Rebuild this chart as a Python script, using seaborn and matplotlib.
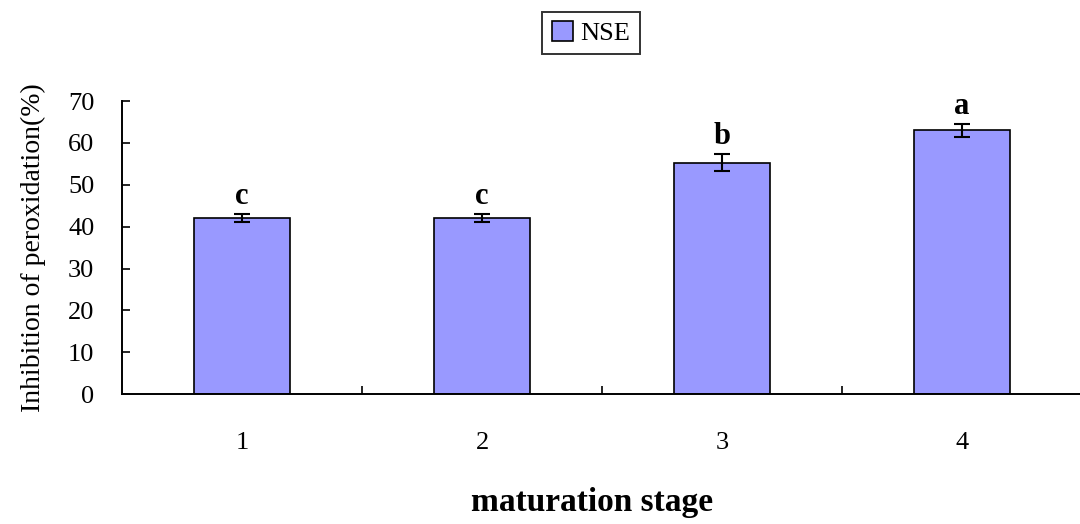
import matplotlib
matplotlib.use("Agg")
import matplotlib.pyplot as plt
import seaborn as sns
import pandas as pd

stages = ["1", "2", "3", "4"]
values = [42.0, 42.0, 55.3, 63.0]
errors = [1.0, 1.0, 2.0, 1.5]
letters = ["c", "c", "b", "a"]
series_name = "NSE"

sns.set_style("ticks")
plt.rcParams["font.family"] = ["Liberation Serif", "DejaVu Serif"]
plt.rcParams["text.color"] = "black"
plt.rcParams["axes.labelcolor"] = "black"
plt.rcParams["xtick.color"] = "black"
plt.rcParams["ytick.color"] = "black"

df = pd.DataFrame({"stage": stages, "value": values, "series": series_name})

fig = plt.figure(figsize=(10.8, 5.24), dpi=100)
ax = fig.add_axes([0.113, 0.248, 0.889, 0.559])

sns.barplot(data=df, x="stage", y="value", hue="series", palette=["#9999FF"],
            width=0.4, edgecolor="black", linewidth=1.2, ax=ax, saturation=1)
ax.errorbar(range(len(stages)), values, yerr=errors, fmt="none",
            ecolor="black", elinewidth=1.5, capsize=6, capthick=1.5)
for i, (v, e, l) in enumerate(zip(values, errors, letters)):
    ax.text(i, v + e + 0.8, l, ha="center", va="bottom", fontsize=22,
            fontweight="bold")

ax.set_xlim(-0.5, 3.5)
ax.set_ylim(0, 70)
ax.set_yticks(range(0, 71, 10))
ax.set_xticks([0, 1, 2, 3])
ax.set_xticklabels(stages)
ax.set_xticks([0.5, 1.5, 2.5], minor=True)
ax.tick_params(axis="x", which="major", length=0, pad=27, labelsize=19)
ax.tick_params(axis="x", which="minor", length=6, direction="in", width=1.2)
ax.tick_params(axis="y", direction="in", length=6, width=1.2, pad=20, labelsize=19)
for s in ["top", "right"]:
    ax.spines[s].set_visible(False)
for s in ["left", "bottom"]:
    ax.spines[s].set_linewidth(1.4)
    ax.spines[s].set_color("black")

ax.set_xlabel("maturation stage", fontsize=24, fontweight="bold", labelpad=24)
ax.xaxis.set_label_coords((592 - 122) / 960, -0.318)
ax.set_ylabel("Inhibition of peroxidation(%)", fontsize=20, labelpad=16)

leg = ax.legend(loc="center", fontsize=19, frameon=True, fancybox=False,
                edgecolor="black", handlelength=0.8, handleheight=0.8,
                handletextpad=0.3, borderpad=0.35)
leg.set_bbox_to_anchor((591 / 1080, 1 - 33 / 524), transform=fig.transFigure)
leg.get_frame().set_linewidth(1.4)

fig.savefig("out.png", dpi=100)
